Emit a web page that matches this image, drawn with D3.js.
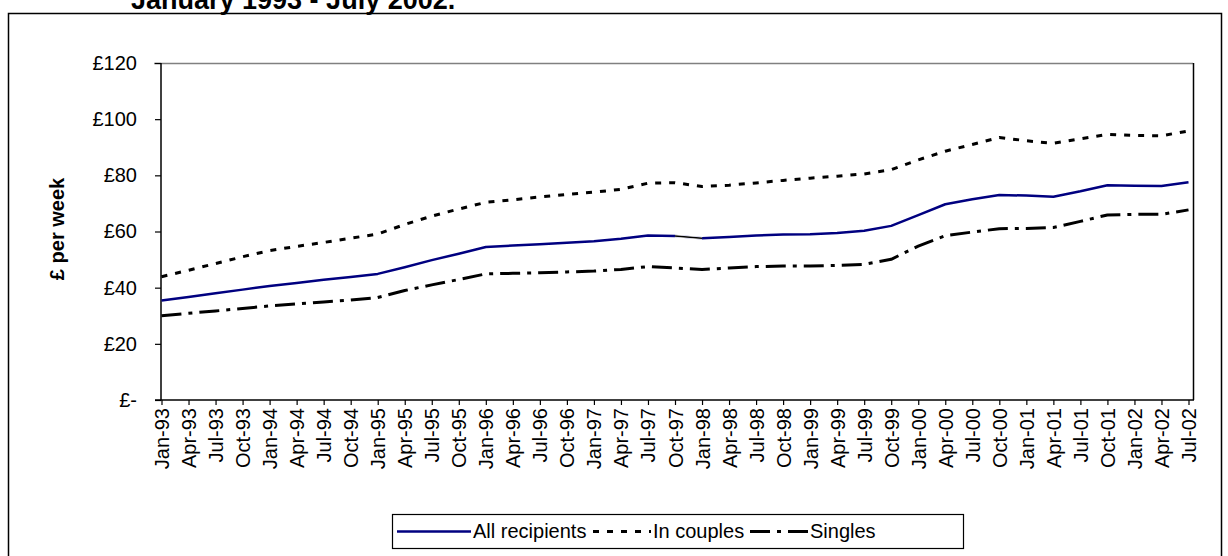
<!DOCTYPE html>
<html>
<head>
<meta charset="utf-8">
<script src="https://cdn.jsdelivr.net/npm/d3@7"></script>
<style>
  body { margin: 0; background: #fff; }
  svg { display: block; font-family: Arial, "Liberation Sans", sans-serif; }
</style>
</head>
<body>
<div id="d3-container"></div>
<script>
/* CONSTANTS AND GLOBALS */
const width = 1228,
  height = 556,
  margin = { top: 63, bottom: 156, left: 161, right: 35 };

/* DATA */
const quarters = [
  "Jan-93", "Apr-93", "Jul-93", "Oct-93", "Jan-94", "Apr-94", "Jul-94", "Oct-94",
  "Jan-95", "Apr-95", "Jul-95", "Oct-95", "Jan-96", "Apr-96", "Jul-96", "Oct-96",
  "Jan-97", "Apr-97", "Jul-97", "Oct-97", "Jan-98", "Apr-98", "Jul-98", "Oct-98",
  "Jan-99", "Apr-99", "Jul-99", "Oct-99", "Jan-00", "Apr-00", "Jul-00", "Oct-00",
  "Jan-01", "Apr-01", "Jul-01", "Oct-01", "Jan-02", "Apr-02", "Jul-02"
];

const allRecipients = [
  35.4, 36.7, 38.0, 39.3, 40.6, 41.7, 42.8, 43.8,
  44.9, 47.3, 49.8, 52.1, 54.5, 55.0, 55.5, 56.0,
  56.5, 57.4, 58.6, 58.4, 57.6, 58.0, 58.6, 58.9,
  59.0, 59.5, 60.3, 62.0, 65.8, 69.7, 71.5, 73.0,
  72.8, 72.4, 74.3, 76.5, 76.3, 76.2, 77.5
];

const inCouples = [
  43.9, 46.2, 48.6, 51.0, 53.2, 54.7, 56.1, 57.6,
  59.1, 62.5, 65.5, 68.0, 70.4, 71.3, 72.3, 73.2,
  74.0, 75.0, 77.2, 77.4, 76.0, 76.5, 77.3, 78.2,
  79.0, 79.7, 80.5, 82.0, 85.5, 88.6, 91.0, 93.5,
  92.3, 91.4, 93.0, 94.6, 94.2, 94.1, 95.8
];

const singles = [
  30.0, 30.9, 31.7, 32.6, 33.5, 34.2, 34.9, 35.6,
  36.5, 39.0, 41.0, 42.9, 44.9, 45.1, 45.3, 45.6,
  45.9, 46.5, 47.5, 47.0, 46.5, 47.0, 47.5, 47.7,
  47.7, 47.9, 48.3, 50.1, 54.8, 58.5, 59.8, 61.0,
  61.1, 61.4, 63.6, 65.9, 66.1, 66.1, 67.7
];

const yTicks = [0, 20, 40, 60, 80, 100, 120];

const seriesNames = ["All recipients", "In couples", "Singles"];

// styles for each series (blue solid, dotted, long dash-dot)
const seriesStyle = [
  { color: "#000080", dash: null, width: 2.5 },
  { color: "#000000", dash: "6,8", width: 3 },
  { color: "#000000", dash: "20,7,4,7", width: 3 }
];

const seriesData = [allRecipients, inCouples, singles];

/* SCALES */
const xScale = d3.scalePoint()
  .domain(quarters)
  .range([161.5, 1188.5]);

const yScale = d3.scaleLinear()
  .domain([0, 120])
  .range([height - margin.bottom, margin.top]);

const plotRight = width - margin.right; // 1193

/* SVG */
const svg = d3.select("#d3-container")
  .append("svg")
  .attr("width", width)
  .attr("height", height);

// outer chart frame
svg.append("rect")
  .attr("x", 8.5)
  .attr("y", 13.5)
  .attr("width", 1213)
  .attr("height", 560)
  .attr("fill", "none")
  .attr("stroke", "#000")
  .attr("stroke-width", 1.5);

// title, partly cut off at the top (as in the original)
svg.append("text")
  .attr("x", 131)
  .attr("y", 9)
  .attr("font-size", 27)
  .attr("font-weight", "bold")
  .attr("fill", "#000")
  .text("January 1993 - July 2002.");

// plot area border: gray top, black right
svg.append("line")
  .attr("x1", 154).attr("x2", plotRight)
  .attr("y1", yScale(120) + 0.5).attr("y2", yScale(120) + 0.5)
  .attr("stroke", "#808080")
  .attr("stroke-width", 1.5);

svg.append("line")
  .attr("x1", plotRight + 0.5).attr("x2", plotRight + 0.5)
  .attr("y1", yScale(120)).attr("y2", yScale(0))
  .attr("stroke", "#000")
  .attr("stroke-width", 1.5);

/* AXES */
const yAxis = d3.axisLeft(yScale)
  .tickValues(yTicks)
  .tickSize(6)
  .tickPadding(18)
  .tickFormat(d => d === 0 ? "£-" : "£" + d);

const yAxisGroup = svg.append("g")
  .attr("class", "yAxis")
  .attr("transform", `translate(${margin.left}, 0)`)
  .call(yAxis);

yAxisGroup.select(".domain").remove();
yAxisGroup.selectAll(".tick line").attr("stroke", "#000").attr("stroke-width", 1.2);
yAxisGroup.selectAll(".tick text")
  .attr("font-size", 20)
  .attr("font-family", "Arial, 'Liberation Sans', sans-serif")
  .attr("fill", "#000");

svg.append("line")
  .attr("x1", margin.left).attr("x2", margin.left)
  .attr("y1", yScale(120)).attr("y2", yScale(0))
  .attr("stroke", "#000")
  .attr("stroke-width", 1.5);

const xAxis = d3.axisBottom(xScale)
  .tickSize(5);

const xAxisGroup = svg.append("g")
  .attr("class", "xAxis")
  .attr("transform", `translate(0, ${yScale(0)})`)
  .call(xAxis);

xAxisGroup.select(".domain").remove();
xAxisGroup.selectAll(".tick line").attr("stroke", "#000").attr("stroke-width", 1.2);
xAxisGroup.selectAll(".tick text")
  .attr("transform", "rotate(-90)")
  .attr("x", -8)
  .attr("y", 0)
  .attr("dy", "0.35em")
  .attr("text-anchor", "end")
  .attr("font-size", 20)
  .attr("font-family", "Arial, 'Liberation Sans', sans-serif")
  .attr("fill", "#000");

svg.append("line")
  .attr("x1", 155).attr("x2", plotRight + 1)
  .attr("y1", yScale(0)).attr("y2", yScale(0))
  .attr("stroke", "#000")
  .attr("stroke-width", 1.5);

// y axis title
svg.append("text")
  .attr("transform", `translate(64, 229) rotate(-90)`)
  .attr("text-anchor", "middle")
  .attr("font-size", 20)
  .attr("font-weight", "bold")
  .attr("fill", "#000")
  .text("£ per week");

/* LINES */
const lineFunction = d3.line()
  .x((d, i) => xScale(quarters[i]))
  .y(d => yScale(d));

svg.selectAll("path.series")
  .data(seriesData)
  .join("path")
  .attr("class", "series")
  .attr("fill", "none")
  .attr("stroke", (d, i) => seriesStyle[i].color)
  .attr("stroke-width", (d, i) => seriesStyle[i].width)
  .attr("stroke-dasharray", (d, i) => seriesStyle[i].dash)
  .attr("stroke-linejoin", "round")
  .attr("d", lineFunction);

// the Oct-97 -> Jan-98 piece of the blue line shows as a thin black segment
const segIdx = [quarters.indexOf("Oct-97"), quarters.indexOf("Jan-98")];
const segLine = d3.line()
  .x(i => xScale(quarters[i]))
  .y(i => yScale(allRecipients[i]));
svg.append("path")
  .attr("fill", "none")
  .attr("stroke", "#fff")
  .attr("stroke-width", 3)
  .attr("d", segLine(segIdx));
svg.append("path")
  .attr("fill", "none")
  .attr("stroke", "#000")
  .attr("stroke-width", 1.5)
  .attr("d", segLine(segIdx));

/* LEGEND */
const legend = svg.append("g").attr("class", "legend");

legend.append("rect")
  .attr("x", 392.5)
  .attr("y", 514.5)
  .attr("width", 571)
  .attr("height", 34)
  .attr("fill", "#fff")
  .attr("stroke", "#000")
  .attr("stroke-width", 1.2);

const legendItems = [
  { x1: 397, x2: 471, tx: 473 },
  { x1: 593, x2: 651, tx: 653 },
  { x1: 750, x2: 808, tx: 810 }
];

legend.selectAll("line.key")
  .data(seriesNames)
  .join("line")
  .attr("class", "key")
  .attr("x1", (d, i) => legendItems[i].x1)
  .attr("x2", (d, i) => legendItems[i].x2)
  .attr("y1", 531.5)
  .attr("y2", 531.5)
  .attr("stroke", (d, i) => seriesStyle[i].color)
  .attr("stroke-width", (d, i) => seriesStyle[i].width)
  .attr("stroke-dasharray", (d, i) => seriesStyle[i].dash);

legend.selectAll("text.key")
  .data(seriesNames)
  .join("text")
  .attr("class", "key")
  .attr("x", (d, i) => legendItems[i].tx)
  .attr("y", 538)
  .attr("font-size", 20)
  .attr("fill", "#000")
  .text(d => d);
</script>
</body>
</html>
